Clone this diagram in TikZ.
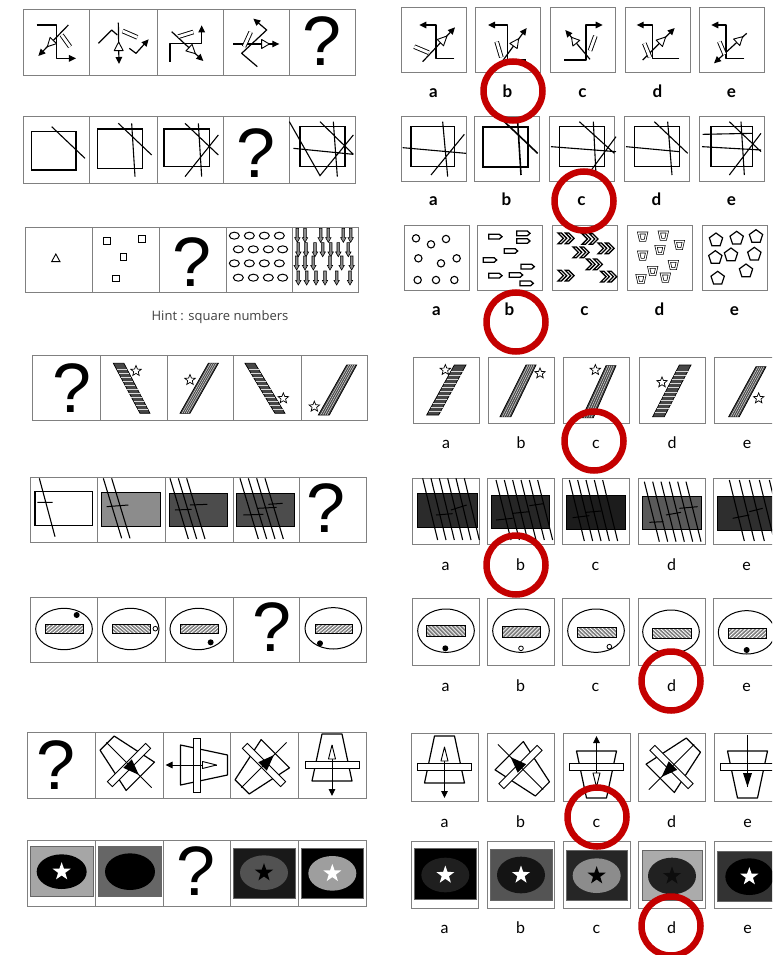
\documentclass[tikz,border=0pt]{standalone}
\usepackage{fontspec}
\setmainfont{Liberation Sans}
\newfontfamily\lblfont{Lato}
\newfontfamily\hintfont{Open Sans}
\usetikzlibrary{arrows.meta,shapes.geometric,calc}
\definecolor{ansred}{RGB}{196,0,0}
\newcommand\qfont{\fontsize{70}{70}\selectfont}
\newcommand\lblA{\lblfont\bfseries\fontsize{17}{17}\selectfont}
\newcommand\lblB{\lblfont\fontsize{16}{16}\selectfont}
\newcommand\curlbl{\lblA}
\newcommand\leftstrip[8]{%
  \draw[box] (#3,#1) rectangle (#8,#2);
  \foreach \xx in {#4,#5,#6,#7} \draw[box] (\xx,#1) -- (\xx,#2);}
\newcommand\rightboxes[9]{%
  \foreach \xx/\ll in {#5/a,#6/b,#7/c,#8/d,#9/e}{%
    \draw[box] (\xx,#1) rectangle ({\xx+#3},#2);
    \node[font=\curlbl,anchor=base] at ({\xx+#3/2},#4) {\ll};}}
\newcommand\htri[2]{\draw[hollowtri] #1 -- ($#2!4.5pt!90:#1$) -- ($#2!4.5pt!-90:#1$) -- cycle;}
\newcommand\slbar[5]{%
  \filldraw[fill=black!72,line width=0.7pt] #1 -- #2 -- #3 -- #4 -- cycle;
  \ifnum#5=0
    \foreach \t in {0.08,0.16,...,0.93} \draw[black!15,line width=0.5pt] ($#1!\t!#4$) -- ($#2!\t!#3$);
  \else
    \foreach \t in {0.2,0.4,0.6,0.8} \draw[black!15,line width=0.5pt] ($#1!\t!#2$) -- ($#4!\t!#3$);
  \fi}
\newcommand\hatchbar[5]{%
  \begin{scope}
    \clip (#1,#2) rectangle (#3,#4);
    \fill[black!50] (#1,#2) rectangle (#3,#4);
    \foreach \s in {-40,-28,...,160} \draw[white,line width=0.8pt] ({#1+\s},#4) -- ({#1+\s+#5*33},#2);
  \end{scope}
  \draw[line width=0.9pt] (#1,#2) rectangle (#3,#4);}
\newcommand\tfig[4]{%
  \begin{scope}[shift={(#1,#2)},rotate=#3]
    \draw[fig] (-10,-31) -- (10,-31) -- (20,16) -- (-20,16) -- cycle;
    \draw[line width=0.9pt,fill=white] (-27,-3.5) rectangle (27,3.5);
    \ifnum#4=0
      \draw[line width=1pt,arw] (0,-20) -- (0,31);
      \draw[hollowtri] (0,-20) -- (-3.5,-6) -- (3.5,-6) -- cycle;
    \else
      \draw[line width=1pt] (0,-32) -- (0,32);
      \fill (0,14) -- (-6,-2) -- (6,-2) -- cycle;
    \fi
  \end{scope}}
\begin{document}
\begin{tikzpicture}[x=1pt,y=-1pt,
  box/.style={draw=black!50,line width=1pt},
  fig/.style={line width=1.2pt,line join=round},
  arw/.style={-{Triangle[length=7pt,width=6.5pt]}},
  barx/.style={double,double distance=2.8pt,line width=0.9pt},
  hollowtri/.style={line width=0.9pt,fill=white,line join=round},
  sq/.style={line width=1.3pt},
  ln/.style={line width=1.1pt},
  zm/.style 2 args={shift={(#1,#2)},x=0.3333333pt,y=-0.3333333pt},
  smallstar/.style={star,star points=5,star point ratio=2.3,draw,line width=0.7pt,minimum size=11pt,inner sep=0pt,fill=white},
  bigstar/.style={star,star points=5,star point ratio=2.5,minimum size=19pt,inner sep=0pt},
  answer/.style={draw=ansred,line width=6.5pt}]
\useasboundingbox (0,0) rectangle (772,955);
\clip (0,0) rectangle (772,955);
\fill[white] (0,0) rectangle (772,955);

% ================= Row 1
\leftstrip{10}{76}{23}{89}{157}{223}{289}{355}
\let\curlbl\lblA
\rightboxes{8}{73}{65}{98}{401}{475}{550}{625}{699}
\node[font=\qfont] (q1) at (322,41) {?};
\begin{scope}[zm={0}{0}]
  \draw[fig,arw] (110,75) -- (170,75) -- (170,175) -- (228,175);
  \draw[fig,arw] (205,75) -- (115,168);
  \htri{(142,140)}{(160,121.5)}
  \draw[barx] (185,105) -- (210,140);
  \draw[fig] (295,130) -- (335,90) -- (352,105);
  \draw[fig,arw] (355,68) -- (357,192);
  \draw[fig,arw] (388,145) -- (408,160) -- (446,118);
  \htri{(356,126)}{(356,152)}
  \draw[barx] (368,93) -- (412,112);
  \draw[fig,arw] (510,185) -- (510,130) -- (605,130) -- (605,76);
  \draw[fig,arw] (515,95) -- (610,183);
  \htri{(586,161)}{(567,143)}
  \draw[barx] (535,110) -- (580,96);
  \draw[fig,arw] (700,132) -- (838,132);
  \htri{(808,132)}{(785,132)}
  \draw[fig,arw] (772,200) -- (725,160) -- (800,90) -- (760,56);
  \draw[barx] (732,140) -- (752,96);
\end{scope}
\begin{scope}[zm={386}{0}]
  \draw[fig,arw] (205,175) -- (150,175) -- (150,75) -- (100,75);
  \draw[fig,arw] (110,185) -- (207,82);
  \htri{(183,108)}{(163,128)}
  \draw[barx] (85,140) -- (128,158);
  \draw[fig,arw] (420,180) -- (365,180) -- (365,75) -- (306,75);
  \draw[fig,arw] (343,192) -- (422,84);
  \htri{(398,116)}{(382.5,138)}
  \draw[barx] (332,125) -- (346,172);
  \draw[fig,arw] (535,180) -- (600,180) -- (600,75) -- (650,75);
  \draw[fig,arw] (612,178) -- (538,90);
  \htri{(556.5,112)}{(571,129.6)}
  \draw[barx] (612,152) -- (628,108);
  \draw[fig,arw] (880,175) -- (800,175) -- (800,75) -- (752,75);
  \draw[fig,arw] (770,180) -- (866,84);
  \htri{(839,111)}{(820,130)}
  \draw[barx] (775,130) -- (792,172);
  \draw[fig,arw] (1075,175) -- (1020,175) -- (1020,75) -- (976,75);
  \draw[fig,arw] (1082,100) -- (984,190);
  \htri{(1070,110)}{(1052,127)}
  \draw[barx] (1000,125) -- (1016,163);
\end{scope}

% ================= Row 2
\leftstrip{117}{183}{23}{89}{157}{223}{289}{355}
\rightboxes{117}{181}{65}{205}{401}{474}{549}{624}{699}
\node[font=\qfont] (q2) at (256,153) {?};
\begin{scope}[zm={0}{105}]
  \draw[sq] (95,80) rectangle (228,195); \draw[ln] (155,65) -- (255,160);
  \draw[sq] (292,72) rectangle (428,190); \draw[ln] (355,55) -- (455,150) (395,55) -- (405,215);
  \draw[sq] (492,72) rectangle (628,185); \draw[ln] (555,55) -- (655,150) (595,55) -- (605,215) (555,215) -- (655,90);
  \draw[sq] (900,65) rectangle (1035,185); \draw[ln] (960,50) -- (1060,148) (1000,50) -- (1012,215) (868,50) -- (960,212) -- (1060,90) (880,130) -- (1060,148);
\end{scope}
\begin{scope}[zm={386}{105}]
  \draw[sq] (75,65) rectangle (205,185); \draw[ln] (50,128) -- (240,145) (170,50) -- (185,215) (135,210) -- (235,88);
  \draw[line width=2pt] (292,65) rectangle (425,185); \draw[line width=1.6pt] (355,50) -- (455,145) (395,50) -- (405,210);
  \draw[sq] (520,65) rectangle (655,185); \draw[ln] (580,50) -- (685,145) (622,50) -- (630,210) (495,125) -- (690,140) (605,210) -- (690,95);
  \draw[sq] (745,65) rectangle (880,185); \draw[ln] (805,50) -- (905,145) (845,50) -- (858,210) (720,125) -- (880,140);
  \draw[sq] (975,65) rectangle (1100,185); \draw[ln] (1030,50) -- (1125,140) (1065,50) -- (1075,210) (948,125) -- (1125,135) (1030,210) -- (1125,85) (950,88) -- (1100,85);
\end{scope}

% ================= Row 3
\leftstrip{227}{292}{25}{92}{159}{226}{292}{358}
\rightboxes{225}{290}{65}{315}{404}{477}{552}{627}{702}
\node[font=\qfont] (q3) at (192,262) {?};
\node[font=\hintfont\fontsize{13}{13}\selectfont,text=black!75] (hint) at (220,317) {Hint : square numbers};
\begin{scope}[zm={0}{215}]
  \draw[line width=0.9pt] (155,140) -- (180,140) -- (167.5,117) -- cycle;
  \foreach \p in {(320,77),(425,72),(370,125),(348,190)} \draw[line width=0.9pt] \p ++(-10,-10) rectangle ++(20,20);
  \foreach \xx/\yy in {703/62,748/62,793/62,838/62,715/103,760/103,805/103,848/103,703/145,748/145,793/145,838/145,715/188,760/188,805/188,848/188}
    \draw[line width=1pt] (\xx,\yy) ellipse [x radius=15,y radius=10.5];
  \foreach \xx/\yy in {892/62,915/62,962/62,985/62,1030/62,1052/62,895/105,918/105,945/105,968/105,992/105,1015/105,1045/105,890/145,915/145,940/145,990/145,1025/145,1055/145,895/190,920/190,948/190,975/190,1010/190,1050/190}{
    \begin{scope}[shift={(\xx,\yy)}]
      \filldraw[fill=black!45,line width=0.6pt] (-4,-22) -- (4,-22) -- (4,6) -- (8,6) -- (0,20) -- (-8,6) -- (-4,6) -- cycle;
    \end{scope}}
\end{scope}
\begin{scope}[zm={386}{215}]
  \foreach \p in {(90,70),(135,88),(180,72),(97,130),(165,145),(212,130),(95,195),(150,195),(205,195)}
    \draw[line width=1.1pt] \p circle [radius=11];
  \foreach \xx/\yy in {328/65,412/55,412/78,375/108,312/135,425/155,328/182,390/180,422/205}{
    \begin{scope}[shift={(\xx,\yy)}]
      \draw[line width=1.3pt] (-20,-7) -- (12,-7) -- (20,0) -- (12,7) -- (-20,7) -- cycle;
    \end{scope}}
  \foreach \xx/\yy in {540/70,612/72,585/112,660/100,625/148,540/182,668/185}{
    \foreach \d in {-11,11}{
      \begin{scope}[shift={(\xx+\d,\yy)}]
        \draw[line width=1.3pt] (-13,-16) -- (-3,-16) -- (13,0) -- (-3,16) -- (-13,16) -- (3,0) -- cycle;
      \end{scope}}}
  \foreach \xx/\yy in {770/65,832/62,880/90,770/122,822/105,800/168,862/150,765/192,838/188}{
    \begin{scope}[shift={(\xx,\yy)}]
      \draw[double,double distance=1.2pt,line width=0.7pt] (-12,-11) -- (12,-11) -- (7,11) -- (-7,11) -- cycle;
    \end{scope}}
  \foreach \p in {(990,75),(1052,70),(1110,65),(988,128),(1035,120),(1105,118),(1080,168),(995,190)}
    \node[draw,regular polygon,regular polygon sides=5,minimum size=14pt,inner sep=0pt,line width=1.2pt] at \p {};
\end{scope}

% ================= Row 4
\let\curlbl\lblB
\leftstrip{355}{420}{32}{100}{167}{233}{301}{367}
\rightboxes{357}{423}{66}{448}{413}{488}{563}{639}{714}
\node[font=\qfont] (q4) at (72,388) {?};
\begin{scope}[zm={0}{345}]
  \slbar{(420,205)}{(450,205)}{(372,55)}{(340,55)}{0}
  \node[smallstar] at (408,78) {};
  \slbar{(540,205)}{(570,205)}{(655,55)}{(625,55)}{1}
  \node[smallstar] at (570,105) {};
  \slbar{(825,205)}{(855,205)}{(765,55)}{(735,55)}{0}
  \node[smallstar] at (850,160) {};
  \slbar{(955,210)}{(988,210)}{(1070,60)}{(1040,60)}{1}
  \node[smallstar] at (943,185) {};
\end{scope}
\begin{scope}[zm={386}{345}]
  \slbar{(122,210)}{(158,210)}{(240,60)}{(205,60)}{0}
  \node[smallstar] at (178,75) {};
  \slbar{(342,215)}{(375,215)}{(450,60)}{(420,60)}{1}
  \node[smallstar] at (462,85) {};
  \slbar{(588,218)}{(622,218)}{(690,62)}{(660,62)}{1}
  \node[smallstar] at (628,75) {};
  \slbar{(800,215)}{(835,215)}{(915,60)}{(880,60)}{0}
  \node[smallstar] at (828,112) {};
  \slbar{(1028,215)}{(1060,215)}{(1140,65)}{(1110,65)}{1}
  \node[smallstar] at (1118,160) {};
\end{scope}

% ================= Row 5
\leftstrip{477}{542}{30}{97}{165}{233}{299}{366}
\rightboxes{478}{544}{67}{570}{412}{487}{562}{638}{713}
\node[font=\qfont] (q5) at (326,508) {?};
\begin{scope}[zm={0}{465}]
  \draw[line width=1.1pt] (105,80) rectangle (278,182);
  \draw[line width=1.1pt] (118,40) -- (165,215) (112,112) -- (158,112);
  \filldraw[fill=black!45,line width=0.8pt] (305,82) rectangle (482,183);
  \foreach \xx in {310,335} \draw[line width=1.1pt] (\xx,40) -- (\xx+55,220);
  \draw[line width=1pt] (320,125) -- (385,120);
  \filldraw[fill=black!70,line width=0.8pt] (508,85) rectangle (683,185);
  \foreach \xx in {510,535,560} \draw[line width=1.1pt] (\xx,40) -- (\xx+55,222);
  \draw[line width=1pt] (525,135) -- (575,133) (570,120) -- (622,118);
  \filldraw[fill=black!70,line width=0.8pt] (708,85) rectangle (883,185);
  \foreach \xx in {720,745,770,795} \draw[line width=1.1pt] (\xx,40) -- (\xx+55,222);
  \draw[line width=1pt] (730,150) -- (790,148) (772,130) -- (830,127) (805,118) -- (848,115);
\end{scope}
\begin{scope}[zm={386}{465}]
  \filldraw[fill=black!83,line width=0.8pt] (95,85) rectangle (275,188);
  \foreach \xx in {110,135,160,185,210,235} \draw[line width=1.1pt] (\xx,40) -- (\xx+45,225);
  \draw[line width=1pt] (150,150) -- (200,146) (195,135) -- (242,120);
  \filldraw[fill=black!85,line width=0.8pt] (315,90) rectangle (490,190);
  \foreach \xx in {330,355,380,405,430,455} \draw[line width=1.1pt] (\xx,45) -- (\xx+45,225);
  \draw[line width=1pt] (330,165) -- (380,160) (380,145) -- (430,140) (430,122) -- (472,116);
  \filldraw[fill=black!89,line width=0.8pt] (540,90) rectangle (718,192);
  \foreach \xx in {550,575,600,625,650} \draw[line width=1.1pt] (\xx,45) -- (\xx+45,228);
  \draw[line width=1pt] (560,158) -- (610,152) (600,142) -- (645,138);
  \filldraw[fill=black!65,line width=0.8pt] (768,95) rectangle (945,193);
  \foreach \xx in {775,800,825,850,875,900} \draw[line width=1.1pt] (\xx,50) -- (\xx+45,230);
  \draw[line width=1pt] (790,172) -- (832,170) (840,150) -- (885,142) (880,130) -- (935,125);
  \filldraw[fill=black!82,line width=0.8pt] (995,95) rectangle (1165,195);
  \foreach \xx in {1030,1060,1090,1120,1150} \draw[line width=1.1pt] (\xx,45) -- (\xx+45,228);
  \draw[line width=1pt] (1040,160) -- (1090,150) (1090,140) -- (1130,130);
\end{scope}

% ================= Row 6
\leftstrip{597}{662}{30}{97}{165}{233}{299}{366}
\rightboxes{598}{665}{67}{691}{412}{487}{562}{638}{713}
\node[font=\qfont] (q6) at (272,627) {?};
\begin{scope}[zm={0}{465}]
  \draw[line width=1pt] (192,492) ellipse [x radius=85,y radius=62];
  \hatchbar{137}{477}{250}{505}{1}
  \fill (230,450) circle [radius=9];
  \draw[line width=1pt] (392,492) ellipse [x radius=85,y radius=62];
  \hatchbar{338}{477}{452}{505}{-1}
  \draw[line width=0.8pt,fill=white] (466,491) circle [radius=7];
  \draw[line width=1pt] (595,492) ellipse [x radius=85,y radius=62];
  \hatchbar{540}{477}{655}{505}{1}
  \fill (632,532) circle [radius=9];
  \draw[line width=1pt] (1000,490) ellipse [x radius=85,y radius=62];
  \hatchbar{945}{477}{1058}{505}{1}
  \fill (960,535) circle [radius=9];
\end{scope}
\begin{scope}[zm={386}{465}]
  \draw[line width=1pt] (180,497) ellipse [x radius=85,y radius=65];
  \hatchbar{122}{482}{238}{515}{-1}
  \fill (178,550) circle [radius=9];
  \draw[line width=1pt] (405,497) ellipse [x radius=85,y radius=65];
  \hatchbar{348}{485}{462}{518}{1}
  \draw[line width=0.8pt] (405,550) circle [radius=7];
  \draw[line width=1pt] (630,497) ellipse [x radius=85,y radius=65];
  \hatchbar{575}{487}{690}{518}{-1}
  \draw[line width=0.8pt] (670,545) circle [radius=7];
  \draw[line width=1pt] (855,500) ellipse [x radius=85,y radius=65];
  \hatchbar{800}{490}{915}{520}{-1}
  \draw[line width=1pt] (1082,502) ellipse [x radius=85,y radius=65];
  \hatchbar{1028}{490}{1142}{520}{1}
  \fill (1082,555) circle [radius=9];
\end{scope}

% ================= Row 7
\leftstrip{732}{798}{27}{95}{163}{230}{298}{366}
\rightboxes{733}{801}{67}{827}{411}{487}{563}{638}{714}
\node[font=\qfont] (q7) at (56,765) {?};
\tfig{129}{765}{45}{1}
\tfig{196.5}{765}{-90}{0}
\tfig{264}{765}{135}{1}
\tfig{332}{765}{0}{0}
\tfig{444.5}{767}{0}{0}
\tfig{520.5}{767}{-135}{1}
\tfig{596.5}{767}{180}{0}
\tfig{671.5}{767}{-45}{1}
\begin{scope}[shift={(747.5,767)}]
  \draw[fig] (-20,-16) -- (20,-16) -- (10,31) -- (-10,31) -- cycle;
  \draw[line width=0.9pt,fill=white] (-27,-3.5) rectangle (27,3.5);
  \draw[line width=1pt] (0,-32) -- (0,20);
  \fill (0,20) -- (-4.5,6) -- (4.5,6) -- cycle;
\end{scope}

% ================= Row 8
\leftstrip{840}{906}{27}{95}{163}{230}{298}{366}
\rightboxes{841}{908}{67}{933}{411}{487}{563}{638}{714}
\node[font=\qfont] (q8) at (196,871) {?};
\begin{scope}[zm={0}{710}]
  \filldraw[fill=black!35,draw=black!60,line width=0.6pt] (90,410) rectangle (280,558);
  \fill[black] (185,485) ellipse [x radius=75,y radius=52];
  \node[bigstar,fill=white] at (185,485) {};
  \filldraw[fill=black!60,draw=black!60,line width=0.6pt] (295,410) rectangle (485,560);
  \fill[black] (390,485) ellipse [x radius=75,y radius=55];
  \filldraw[fill=black!90,draw=black!60,line width=0.6pt] (700,415) rectangle (885,565);
  \fill[black!68] (792,488) ellipse [x radius=72,y radius=52];
  \node[bigstar,fill=black] at (792,488) {};
  \filldraw[fill=black,draw=black!60,line width=0.6pt] (905,415) rectangle (1090,565);
  \fill[black!38] (997,490) ellipse [x radius=72,y radius=52];
  \node[bigstar,fill=white] at (997,490) {};
\end{scope}
\begin{scope}[zm={386}{710}]
  \filldraw[fill=black,draw=black!60,line width=0.6pt] (85,415) rectangle (270,568);
  \fill[black!88] (178,495) ellipse [x radius=72,y radius=52];
  \node[bigstar,fill=white] at (178,495) {};
  \filldraw[fill=black!67,draw=black!60,line width=0.6pt] (312,418) rectangle (500,570);
  \fill[black!92] (405,495) ellipse [x radius=72,y radius=55];
  \node[bigstar,fill=white] at (405,495) {};
  \filldraw[fill=black!85,draw=black!60,line width=0.6pt] (540,420) rectangle (725,572);
  \fill[black!45] (632,497) ellipse [x radius=72,y radius=52];
  \node[bigstar,fill=black] at (632,497) {};
  \filldraw[fill=black!33,draw=black!60,line width=0.6pt] (768,422) rectangle (950,572);
  \fill[black!87] (858,498) ellipse [x radius=72,y radius=55];
  \node[bigstar,fill=black!95] at (858,498) {};
  \filldraw[fill=black!80,draw=black!60,line width=0.6pt] (995,425) rectangle (1165,575);
  \fill[black] (1090,500) ellipse [x radius=72,y radius=55];
  \node[bigstar,fill=white] at (1090,500) {};
\end{scope}

% ================= Answer circles
\foreach \cx/\cy in {513/91,584/201,516/322,594/441,516/565,671/681,597/817,671/926}
  \draw[answer] (\cx,\cy) circle [radius=29.5];
\end{tikzpicture}
\end{document}
